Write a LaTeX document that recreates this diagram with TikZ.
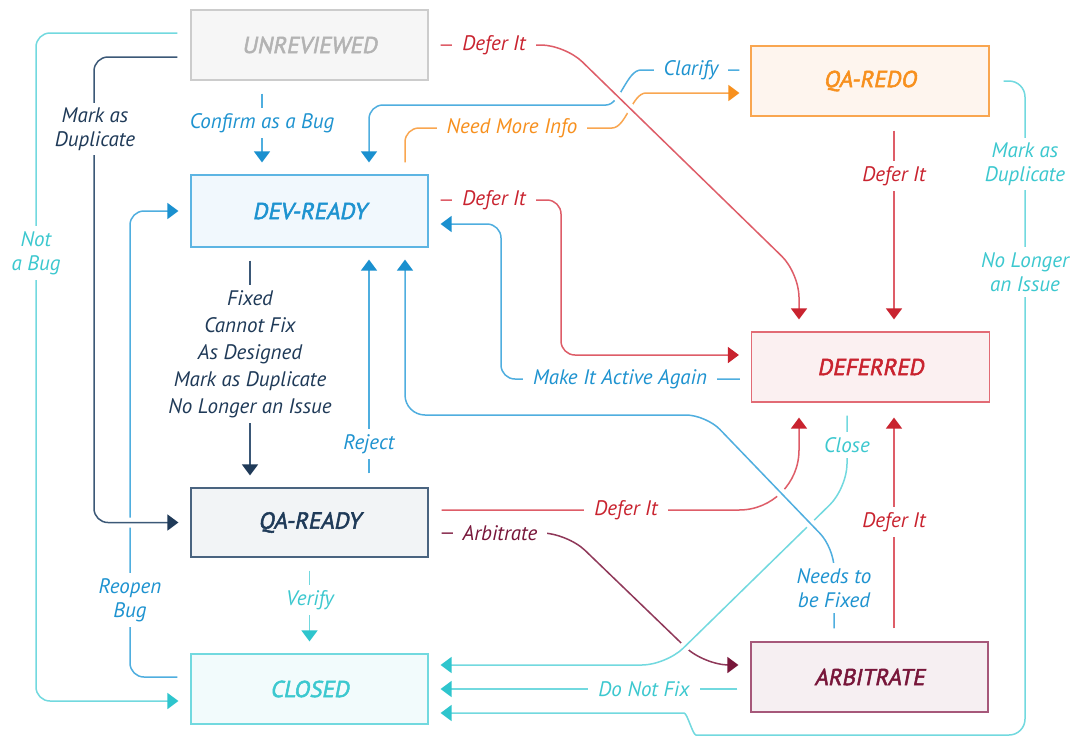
\documentclass[tikz,border=0pt]{standalone}
\usepackage{fontspec}
\setmainfont{PT Sans}
\newfontface\boxfont{PT Sans}[FakeSlant=0.2, FakeBold=2.2]
\usetikzlibrary{arrows.meta}
\definecolor{greyT}{HTML}{B3B3B3}
\definecolor{greyB}{HTML}{CCCCCC}
\definecolor{greyF}{HTML}{F6F6F6}
\definecolor{blueT}{HTML}{1E93D0}
\definecolor{blueL}{HTML}{4FAEDF}
\definecolor{blueA}{HTML}{1A90CF}
\definecolor{blueB}{HTML}{5DB5E3}
\definecolor{blueF}{HTML}{F1F8FD}
\definecolor{navyT}{HTML}{1F3A58}
\definecolor{navyL}{HTML}{3B5877}
\definecolor{navyB}{HTML}{4A6480}
\definecolor{navyF}{HTML}{F2F4F6}
\definecolor{cyanT}{HTML}{3CC8CF}
\definecolor{cyanL}{HTML}{72D9DF}
\definecolor{cyanA}{HTML}{2EC5CD}
\definecolor{cyanF}{HTML}{F2FBFC}
\definecolor{orT}{HTML}{F7901E}
\definecolor{orL}{HTML}{F9A650}
\definecolor{orF}{HTML}{FEF5EE}
\definecolor{redT}{HTML}{C9232F}
\definecolor{redL}{HTML}{DE5D68}
\definecolor{redB}{HTML}{E26B75}
\definecolor{redF}{HTML}{FBF0F1}
\definecolor{marT}{HTML}{78163A}
\definecolor{marL}{HTML}{8F3859}
\definecolor{marB}{HTML}{A6587A}
\definecolor{marF}{HTML}{F6EFF2}
\begin{document}
\begin{tikzpicture}[x=1pt,y=-1pt,
  box/.style={draw, line width=1.2pt, minimum width=237pt, minimum height=70pt, inner sep=0pt,
    font=\boxfont\fontsize{23}{28}\selectfont},
  lab/.style={fill=white, inner xsep=10pt, inner ysep=5pt, align=center,
    font=\itshape\fontsize{21}{24}\selectfont},
  conn/.style={line width=1.5pt, rounded corners=14pt, shorten <=13pt, shorten >=12pt},
  tip/.style={-{Triangle[width=16pt,length=11pt,color=#1]}},
  over/.style={preaction={draw=white, line width=10pt, -, shorten <=22pt, shorten >=22pt}},
  cyc/.style={conn, draw=cyanL, tip=cyanA},
  blc/.style={conn, draw=blueL, tip=blueA},
  nvc/.style={conn, draw=navyL, tip=navyT},
  rdc/.style={conn, draw=redL, tip=redT},
  orc/.style={conn, draw=orL, tip=orT},
  mrc/.style={conn, draw=marL, tip=marT}
]
\useasboundingbox (0,0) rectangle (1070,737);
\fill[white] (0,0) rectangle (1070,737);

% boxes
\node[box, draw=greyB, fill=greyF, text=greyT] (unrev) at (309.5,45) {UNREVIEWED};
\node[box, draw=blueB, fill=blueF, text=blueT, minimum height=72pt] (dev) at (309.5,211) {DEV-READY};
\node[box, draw=navyB, fill=navyF, text=navyT, minimum height=69pt] (qa) at (309.5,522.5) {QA-READY};
\node[box, draw=cyanL, fill=cyanF, text=cyanT] (closed) at (309.5,689) {CLOSED};
\node[box, draw=orL, fill=orF, text=orT, minimum width=238pt] (redo) at (870,81) {QA-REDO};
\node[box, draw=redB, fill=redF, text=redT, minimum width=238pt] (deferred) at (870.5,367) {DEFERRED};
\node[box, draw=marB, fill=marF, text=marT] (arb) at (869.5,677) {ARBITRATE};

% left side loops
\draw[cyc] ([yshift=12pt]unrev.west) -- (36,33) -- (36,701) -- ([yshift=-12pt]closed.west);
\draw[blc] ([yshift=12pt]closed.west) -- (130,677) -- (130,211) -- (dev.west);
\draw[nvc, over] ([yshift=-12pt]unrev.west) -- (94,57) -- (94,522.5) -- (qa.west);

% vertical centre links
\draw[blc] ([xshift=-47.5pt]unrev.south) -- ([xshift=-47.5pt]dev.north);
\draw[nvc] ([xshift=-59.5pt]dev.south) -- ([xshift=-59.5pt]qa.north);
\draw[blc, shorten <=14pt] ([xshift=59.5pt]qa.north) -- ([xshift=59.5pt]dev.south);
\draw[cyc] (qa.south) -- (closed.north);

% QA-REDO links
\draw[blc, shorten <=11pt] ([yshift=11pt]redo.west) -- (655,70) to[out=180,in=0] (592,105) -- (369,105) -- ([xshift=59.5pt]dev.north);
\draw[orc, shorten <=12pt, shorten >=11pt] ([xshift=95.5pt]dev.north) -- (405,128) -- (598,128) to[out=0,in=180] (660,93) -- ([yshift=-12pt]redo.west);
\draw[rdc, over, rounded corners=24pt, shorten <=12pt] (unrev.east) -- (565,45) -- (799,273) -- ([xshift=-71.5pt]deferred.north);
\draw[rdc, shorten <=14pt] ([xshift=24pt]redo.south) -- ([xshift=23.5pt]deferred.north);

% DEV-READY <-> DEFERRED
\draw[rdc, shorten <=12pt] ([yshift=11pt]dev.east) -- (561,200) -- (561,355) -- ([yshift=12pt]deferred.west);
\draw[blc, shorten <=11pt] ([yshift=-12pt]deferred.west) -- (501,379) -- (501,224) -- ([yshift=-13pt]dev.east);

% lower right
\draw[mrc, rounded corners=25pt] ([yshift=-10.5pt]qa.east) -- (567,533) -- (704,665) -- ([yshift=12pt]arb.west);
\draw[cyc, over, rounded corners=24pt] ([xshift=-23.5pt]deferred.south) -- (847,488) -- (666,665) -- ([yshift=24pt]closed.east);
\draw[rdc, rounded corners=60pt, shorten >=15pt] ([yshift=12.5pt]qa.east) -- (799,510) -- ([xshift=-71.5pt]deferred.south);
\draw[blc, over, rounded corners=20pt] ([xshift=-35.5pt]arb.north) -- (834,548) -- (706,415) -- (405,415) -- ([xshift=95.5pt]dev.south);
\draw[rdc, shorten >=15pt] ([xshift=24.5pt]arb.north) -- ([xshift=23.5pt]deferred.south);
\draw[cyc] ([yshift=-12pt]arb.west) -- (closed.east);
\draw[cyc, shorten <=14pt, rounded corners=16pt] (redo.east) -- (1025,81) -- (1025,735) -- (712,735) to[out=180,in=0] (668,713) -- ([yshift=-24pt]closed.east);

% labels
\node[lab, text=cyanT] (l1) at (36,253) {Not\\a Bug};
\node[lab, text=navyT] (l2) at (95,129) {Mark as\\Duplicate};
\node[lab, text=blueT] (l3) at (262,123) {Confirm as a Bug};
\node[lab, text=navyT, font=\itshape\fontsize{21}{27}\selectfont] (l4) at (250,354) {Fixed\\Cannot Fix\\As Designed\\Mark as Duplicate\\No Longer an Issue};
\node[lab, text=blueT] (l5) at (369,444) {Reject};
\node[lab, text=blueT] (l6) at (130,600) {Reopen\\Bug};
\node[lab, text=cyanT] (l7) at (310,600) {Verify};
\node[lab, text=redT] (l8) at (494,45) {Defer It};
\node[lab, text=blueT] (l9) at (691,70) {Clarify};
\node[lab, text=orT] (l10) at (512,128) {Need More Info};
\node[lab, text=redT] (l11) at (894,176) {Defer It};
\node[lab, text=cyanT] (l12) at (1025,164) {Mark as\\Duplicate};
\node[lab, text=cyanT] (l13) at (1025,272) {No Longer\\an Issue};
\node[lab, text=redT] (l14) at (494,200) {Defer It};
\node[lab, text=blueT] (l15) at (620,379) {Make It Active Again};
\node[lab, text=cyanT] (l16) at (847,445) {Close};
\node[lab, text=redT] (l17) at (626,510) {Defer It};
\node[lab, text=marT] (l18) at (500,533) {Arbitrate};
\node[lab, text=redT] (l19) at (894,522) {Defer It};
\node[lab, text=blueT] (l20) at (834,588) {Needs to\\be Fixed};
\node[lab, text=cyanT] (l21) at (644,689) {Do Not Fix};
\end{tikzpicture}
\end{document}
